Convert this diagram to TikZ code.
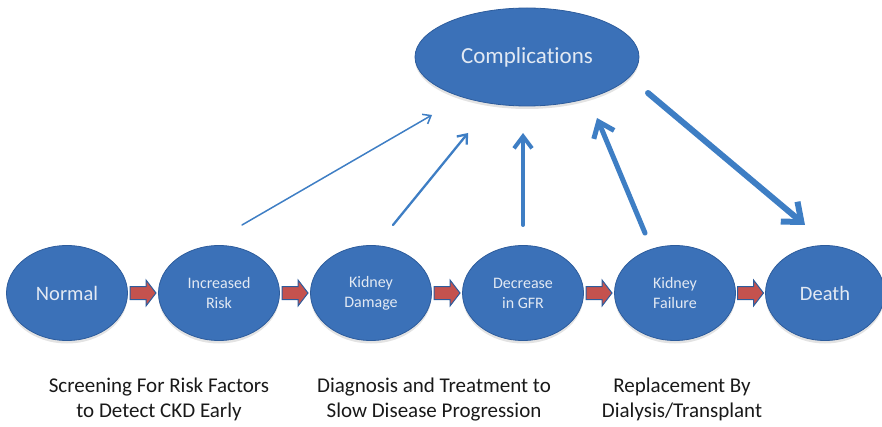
\documentclass[tikz,border=0pt]{standalone}
\usepackage{fontspec}
\setmainfont{Carlito}[RawFeature={-liga;-clig;-calt}]
\usetikzlibrary{shapes.geometric,arrows.meta,calc,shadows}
\definecolor{nodeblue}{RGB}{59,113,184}
\definecolor{nodeedge}{RGB}{45,92,156}
\definecolor{arrblue}{RGB}{62,126,196}
\definecolor{nodetext}{RGB}{226,233,243}
\definecolor{blockred}{RGB}{196,82,78}
\definecolor{labeltext}{RGB}{25,25,25}
\begin{document}
\begin{tikzpicture}[x=1pt,y=-1pt,
  stage/.style={ellipse, fill=nodeblue, draw=nodeedge, line width=0.8pt,
    minimum width=121pt, minimum height=95pt, inner sep=0pt, text=nodetext,
    font=\fontsize{16}{20}\selectfont, align=center,
    drop shadow={opacity=0.22, shadow xshift=0pt, shadow yshift=-3pt}},
  bigstage/.style={stage, font=\fontsize{20.5}{24}\selectfont},
  conn/.style={draw=arrblue, line cap=round, line join=round},
  caption/.style={text=labeltext, font=\fontsize{21}{25}\selectfont, align=center},
  blockarrow/.pic={\draw[fill=blockred, draw=nodeedge, line width=1pt, line join=miter]
     (-13,-6.5) -- (3,-6.5) -- (3,-13) -- (13,0) -- (3,13) -- (3,6.5) -- (-13,6.5) -- cycle;}
]
\useasboundingbox (0,0) rectangle (882,427);

% top node
\node[stage, minimum width=224pt, minimum height=98pt, font=\fontsize{23}{27}\selectfont]
  (comp) at (527,57) {Complications};

% row of stages
\node[bigstage] (normal) at (67,293) {Normal};
\node[stage] (risk) at (219,293) {Increased\\Risk};
\node[stage] (damage) at (371,293) {Kidney\\Damage};
\node[stage] (gfr) at (523,293) {Decrease\\in GFR};
\node[stage] (failure) at (675,293) {Kidney\\Failure};
\node[bigstage, minimum width=119pt] (death) at (825,293) {Death};

% red block arrows
\pic at ($(normal.east)!0.5!(risk.west)$) {blockarrow};
\pic at ($(risk.east)!0.5!(damage.west)$) {blockarrow};
\pic at ($(damage.east)!0.5!(gfr.west)$) {blockarrow};
\pic at ($(gfr.east)!0.5!(failure.west)$) {blockarrow};
\pic at ($(failure.east)!0.5!(death.west)$) {blockarrow};

% free ends of the connectors
\coordinate (a1s) at (242,225);
\coordinate (a1e) at (432,115);
\coordinate (a2s) at (393,225);
\coordinate (a2e) at (468,133);
\coordinate (a3s) at (523,225);
\coordinate (a3e) at (523,133);
\coordinate (a4s) at (645,233);
\coordinate (a4e) at (597,118);
\coordinate (a5s) at (648,93);
\coordinate (a5e) at (805,225);

\draw[conn, line width=1.5pt, -{Straight Barb[length=7pt,width=11pt]}] (a1s) -- (a1e);
\draw[conn, line width=2.3pt, -{Straight Barb[length=8pt,width=13pt]}] (a2s) -- (a2e);
\draw[conn, line width=4pt, -{Straight Barb[length=12pt,width=18pt]}] (a3s) -- (a3e);
\draw[conn, line width=5pt, -{Straight Barb[length=14pt,width=22pt]}] (a4s) -- (a4e);
\draw[conn, line width=6pt, -{Straight Barb[length=16pt,width=26pt]}] (a5s) -- (a5e);

% captions
\node[caption] (cap1) at (159,399.5) {Screening For Risk Factors\\to Detect CKD Early};
\node[caption] (cap2) at (434,399.5) {Diagnosis and Treatment to\\Slow Disease Progression};
\node[caption] (cap3) at (682,399.5) {Replacement  By\\Dialysis/Transplant};
\end{tikzpicture}
\end{document}
